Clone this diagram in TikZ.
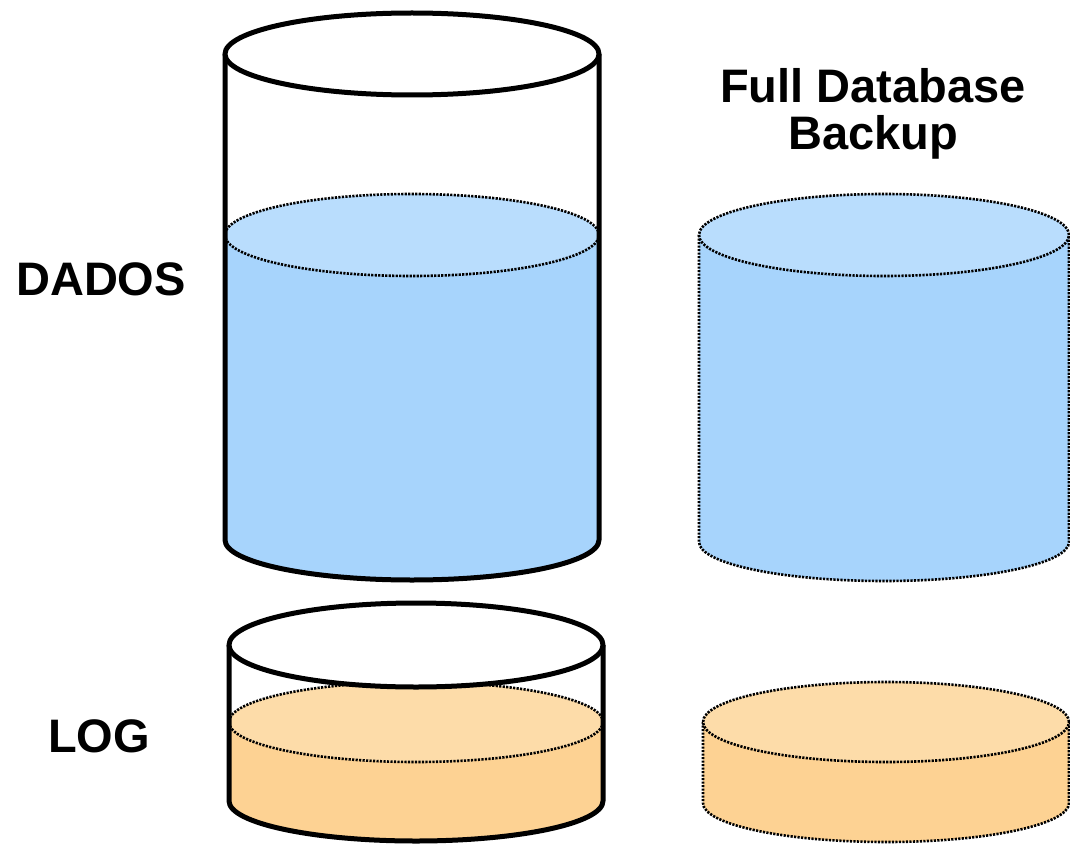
\documentclass[tikz,border=0pt]{standalone}
\usepackage{fontspec}
\setmainfont{Liberation Sans}
\begin{document}
\begin{tikzpicture}[x=1pt,y=-1pt,
  wall/.style={line width=5pt, line join=round},
  dotline/.style={line width=2.6pt, dash pattern=on 2.2pt off 1.3pt},
  bluebody/.style={fill={rgb,255:red,167;green,212;blue,252}},
  bluetop/.style={fill={rgb,255:red,185;green,221;blue,253}},
  orangebody/.style={fill={rgb,255:red,253;green,210;blue,147}},
  orangetop/.style={fill={rgb,255:red,253;green,220;blue,169}},
  label/.style={font=\fontsize{47}{54}\selectfont\bfseries, anchor=base, inner sep=0pt}]
\useasboundingbox (0,0) rectangle (1070,845);

% ---------- data cylinder (DADOS) ----------
\fill[bluebody] (225,235) -- (225,540)
  arc[start angle=180, end angle=360, x radius=187pt, y radius=40pt]
  -- (599,235)
  arc[start angle=0, end angle=-180, x radius=187pt, y radius=41pt] -- cycle;
\draw[bluetop, dotline] (412,235) ellipse[x radius=187pt, y radius=41pt];
\draw[wall] (225,54) -- (225,540)
  arc[start angle=180, end angle=360, x radius=187pt, y radius=40pt]
  -- (599,54);
\draw[wall, fill=white] (412,54) ellipse[x radius=187pt, y radius=41pt];

% ---------- log cylinder (LOG) ----------
\fill[orangebody] (229,722) -- (229,801)
  arc[start angle=180, end angle=360, x radius=187pt, y radius=40pt]
  -- (603,722)
  arc[start angle=0, end angle=-180, x radius=187pt, y radius=40pt] -- cycle;
\draw[orangetop, dotline] (416,722) ellipse[x radius=187pt, y radius=40pt];
\draw[wall] (229,645) -- (229,801)
  arc[start angle=180, end angle=360, x radius=187pt, y radius=40pt]
  -- (603,645);
\draw[wall, fill=white] (416,645) ellipse[x radius=187pt, y radius=42pt];

% ---------- backup of the data ----------
\draw[bluebody, dotline] (699,235) -- (699,542)
  arc[start angle=180, end angle=360, x radius=185pt, y radius=39pt]
  -- (1069,235);
\draw[bluetop, dotline] (884,235) ellipse[x radius=185pt, y radius=41pt];

% ---------- backup of the log ----------
\draw[orangebody, dotline] (703,722) -- (703,803)
  arc[start angle=180, end angle=360, x radius=183pt, y radius=39pt]
  -- (1069,722);
\draw[orangetop, dotline] (886,722) ellipse[x radius=183pt, y radius=40pt];

% ---------- labels ----------
\node[label] (dados) at (101,295) {DADOS};
\node[label] (log) at (99,752) {LOG};
\node[label] (title1) at (873,103) {Full Database};
\node[label] (title2) at (873,150) {Backup};
\end{tikzpicture}
\end{document}
